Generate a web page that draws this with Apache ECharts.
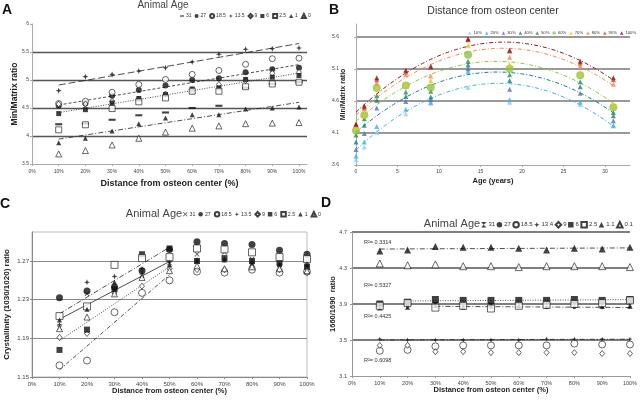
<!DOCTYPE html>
<html><head><meta charset="utf-8">
<script src="https://cdn.jsdelivr.net/npm/echarts@6/dist/echarts.min.js"></script>
<style>html,body{margin:0;padding:0;background:#fff}#c{width:640px;height:403px}</style>
</head><body><div id="c"></div>
<script>
// ---------- data ----------
const distances = [10,20,30,40,50,60,70,80,90,100];
const ages = [0,1,2.5,6,9,13.5,18.5,27,31];
const distLabels = ['10%','20%','30%','40%','50%','60%','70%','80%','90%','100%'];
const ageLabelsA = ['31','27','18.5','13.5','9','6','2.5','1','0'];
const ageLabelsD = ['31','27','18.5','13.4','9','6','2.5','1.1','0.1'];

// Min/Matrix ratio, one array per animal age, values at 10%..100%
const mmAge31  = [4.21,4.22,4.29,4.37,4.42,4.50,4.54,4.86,4.93,4.96];
const mmAge27  = [4.54,4.58,4.72,4.82,4.90,5.00,5.03,5.14,5.19,5.22];
const mmAge18_5= [4.58,4.62,4.78,4.92,5.01,5.10,5.17,5.28,5.38,5.39];
const mmAge13_5= [4.81,5.06,5.10,5.16,5.22,5.32,5.46,5.55,5.56,5.57];
const mmAge9   = [4.57,4.57,4.62,4.66,4.75,4.81,4.92,4.99,5.12,5.14];
const mmAge6   = [4.40,4.47,4.59,4.67,4.74,4.84,4.86,5.01,5.05,5.08];
const mmAge2_5 = [4.11,4.20,4.49,4.61,4.68,4.80,4.80,4.88,4.93,4.96];
const mmAge1   = [3.88,3.96,4.09,4.22,4.32,4.38,4.38,4.48,4.50,4.52];
const mmAge0   = [3.68,3.74,3.84,3.96,4.07,4.14,4.18,4.22,4.23,4.24];

// Crystallinity (1030/1020)
const crAge31  = [1.201,1.236,1.240,1.258,1.268,1.277,1.279,1.272,1.266,1.269];
const crAge27  = [1.232,1.239,1.243,1.260,1.282,1.290,1.288,1.287,1.281,1.277];
const crAge18_5= [1.162,1.167,1.217,1.237,1.250,1.259,1.258,1.261,1.258,1.259];
const crAge13_5= [1.204,1.248,1.254,1.262,1.269,1.271,1.272,1.268,1.266,1.265];
const crAge9   = [1.191,1.195,1.237,1.244,1.262,1.261,1.261,1.264,1.261,1.258];
const crAge6   = [1.178,1.199,1.241,1.277,1.283,1.270,1.273,1.270,1.268,1.264];
const crAge2_5 = [1.213,1.223,1.266,1.273,1.274,1.283,1.282,1.279,1.274,1.272];
const crAge1   = [1.209,1.220,1.248,1.255,1.266,1.270,1.271,1.268,1.266,1.266];
const crAge0   = [1.200,1.212,1.236,1.253,1.260,1.265,1.262,1.264,1.262,1.260];

// 1660/1690 ratio
const amAge31  = [3.86,3.87,3.89,3.87,3.88,3.89,3.88,3.89,3.88,3.88];
const amAge27  = [3.88,3.87,3.88,3.87,3.87,3.87,3.86,3.86,3.86,3.87];
const amAge18_5= [3.38,3.39,3.43,3.44,3.44,3.44,3.44,3.46,3.45,3.45];
const amAge13_4= [3.51,3.50,3.50,3.50,3.50,3.50,3.51,3.51,3.51,3.51];
const amAge9   = [3.44,3.44,3.37,3.37,3.36,3.36,3.36,3.36,3.35,3.35];
const amAge6   = [3.90,3.92,3.95,3.94,3.94,3.94,3.94,3.95,3.94,3.95];
const amAge2_5 = [3.88,3.91,3.86,3.88,3.85,3.88,3.89,3.90,3.91,3.94];
const amAge1_1 = [4.49,4.50,4.54,4.53,4.53,4.52,4.50,4.52,4.51,4.53];
const amAge0_1 = [4.35,4.33,4.34,4.32,4.32,4.31,4.32,4.32,4.32,4.31];
const r2Labels = ['R²= 0.3314','R²= 0.5327','R²= 0.4425','R²= 0.6098'];

// ---------- helpers ----------
function linFit(xs, ys){
  const n=xs.length; let sx=0,sy=0,sxx=0,sxy=0;
  for(let i=0;i<n;i++){sx+=xs[i];sy+=ys[i];sxx+=xs[i]*xs[i];sxy+=xs[i]*ys[i];}
  const b=(n*sxy-sx*sy)/(n*sxx-sx*sx); const a=(sy-b*sx)/n; return [a,b];
}
function quadFit(xs, ys){
  const S=[0,0,0,0,0],T=[0,0,0];
  for(let i=0;i<xs.length;i++){let p=1;for(let k=0;k<5;k++){S[k]+=p;if(k<3)T[k]+=p*ys[i];p*=xs[i];}}
  const M=[[S[0],S[1],S[2],T[0]],[S[1],S[2],S[3],T[1]],[S[2],S[3],S[4],T[2]]];
  for(let c=0;c<3;c++){for(let r=c+1;r<3;r++){const f=M[r][c]/M[c][c];for(let k=c;k<4;k++)M[r][k]-=f*M[c][k];}}
  const x=[0,0,0];
  for(let r=2;r>=0;r--){let s=M[r][3];for(let k=r+1;k<3;k++)s-=M[r][k]*x[k];x[r]=s/M[r][r];}
  return x;
}
const FONT='Liberation Sans, Arial, sans-serif';
const STAR='path://M0,-10 L2.6,-2.6 L10,0 L2.6,2.6 L0,10 L-2.6,2.6 L-10,0 L-2.6,-2.6 Z';
const DASH='path://M0,0 M10,10 M0,3.5 L10,3.5 L10,6.5 L0,6.5 Z';
const XMARK='path://M0,1 L1,0 L5,4 L9,0 L10,1 L6,5 L10,9 L9,10 L5,6 L1,10 L0,9 L4,5 Z';
const HOUR='path://M0,0 L10,0 L5,5 L10,10 L0,10 L5,5 Z';
const blk='#111';
function filled(sym,size){return {symbol:sym,symbolSize:size,itemStyle:{color:blk}};}
function open(sym,size){return {symbol:sym,symbolSize:size,itemStyle:{color:'#fff',borderColor:blk,borderWidth:0.8}};}

const series=[];
function scatter(panel, name, vals, style, gi, off){
  series.push(Object.assign({type:'scatter',name:panel+'|'+name,xAxisIndex:gi,yAxisIndex:gi,
    data:distances.map((d,i)=>[d,+(vals[i]-off).toFixed(4)])},style));
}
function trend(gi, vals, off, type, from, to, width){
  const xs=distances.slice(from,to), ys=vals.slice(from,to); const [a,b]=linFit(xs,ys);
  series.push({type:'line',xAxisIndex:gi,yAxisIndex:gi,silent:true,symbol:'none',z:1,
    lineStyle:{color:'#222',width:width||0.8,type:type},
    data:[[xs[0],a+b*xs[0]-off],[xs[xs.length-1],a+b*xs[xs.length-1]-off]]});
}

// ---------- Panel A ----------
const aRows=[mmAge31,mmAge27,mmAge18_5,mmAge13_5,mmAge9,mmAge6,mmAge2_5,mmAge1,mmAge0];
const aStyles=[filled(DASH,7),filled('circle',6),open('circle',6),filled(STAR,6),open('diamond',[5,6]),
  filled('rect',5),open('rect',6),filled('triangle',5),open('triangle',6)];
ageLabelsA.forEach((n,i)=>scatter('A',n,aRows[i],aStyles[i],0,0));
trend(0,mmAge13_5,0,[7,3],0,10);
trend(0,mmAge27,0,[3,2],0,10);
trend(0,mmAge6,0,[1,1.5],0,10);
trend(0,mmAge1,0,[5,2,1,2],0,10);

// ---------- Panel B ----------
const bRowsByAge=[mmAge0,mmAge1,mmAge2_5,mmAge6,mmAge9,mmAge13_5,mmAge18_5,mmAge27,mmAge31];
const bColors=['#8dd0f2','#3fb0e6','#5a6fb5','#177f86','#2e8b57','#8dc63f','#f5c21b','#ef8a50','#d9412b','#8b1c1c'];
const B_OFF=3.6;
distLabels.forEach((n,j)=>{
  const isBig = j===5;
  series.push({type:'scatter',name:'B|'+n,xAxisIndex:1,yAxisIndex:1,
    symbol:isBig?'circle':'triangle',symbolSize:isBig?8:5,itemStyle:{color:bColors[j]},
    data:ages.map((a,i)=>[a,+(bRowsByAge[i][j]-B_OFF).toFixed(4)])});
});
[1,3,5,7,9].forEach(j=>{
  const ys=bRowsByAge.map(r=>r[j]); const c=quadFit(ages,ys); const pts=[];
  for(let x=0;x<=31.001;x+=0.5) pts.push([x,c[0]+c[1]*x+c[2]*x*x-B_OFF]);
  series.push({type:'line',xAxisIndex:1,yAxisIndex:1,silent:true,symbol:'none',z:1,
    lineStyle:{color:bColors[j],width:1,type:[4,2,1,2]},data:pts});
});

// ---------- Panel C ----------
const C_OFF=1.15;
const cRows=[crAge31,crAge27,crAge18_5,crAge13_5,crAge9,crAge6,crAge2_5,crAge1,crAge0];
const cStyles=[filled(XMARK,5),filled('circle',7),open('circle',7),filled(STAR,6),open('diamond',[5,6]),
  filled('rect',6),open('rect',7),filled('triangle',5),open('triangle',6)];
ageLabelsA.forEach((n,i)=>scatter('C',n,cRows[i],cStyles[i],2,C_OFF));
trend(2,crAge2_5,C_OFF,[5,2,1,2],0,5);
trend(2,crAge1,C_OFF,'solid',0,5);
trend(2,crAge9,C_OFF,[1,1.5],0,5);
trend(2,crAge18_5,C_OFF,[4,2,1,2],0,5);

// ---------- Panel D ----------
const D_OFF=3.1;
const dRows=[amAge31,amAge27,amAge18_5,amAge13_4,amAge9,amAge6,amAge2_5,amAge1_1,amAge0_1];
const dStyles=[filled(HOUR,6),filled('circle',3.5),open('circle',7),filled(STAR,5),open('diamond',[5,6]),
  filled('rect',7),open('rect',7),filled('triangle',7),open('triangle',7)];
ageLabelsD.forEach((n,i)=>scatter('D',n,dRows[i],dStyles[i],3,D_OFF));
trend(3,amAge1_1,D_OFF,[5,2,1,2],0,10);
trend(3,amAge6,D_OFF,[1,1.5],1,10);
trend(3,amAge27,D_OFF,[5,2,1,2],2,10);
trend(3,amAge13_4,D_OFF,[5,2,1,2],0,10);

// ---------- axes ----------
function xAx(gi,max,interval,fmt,fs,margin,name,nameGap,nfs,axisColor,showMaxLabel){
  return {gridIndex:gi,type:'value',min:0,max:max,interval:interval,
    axisLine:{lineStyle:{color:axisColor,width:1}},axisTick:{length:2,lineStyle:{color:axisColor}},
    axisLabel:{formatter:fmt,fontSize:fs,color:'#444',margin:margin,fontFamily:FONT,showMaxLabel:showMaxLabel},
    splitLine:{show:false},name:name,nameLocation:'middle',nameGap:nameGap,nameMoveOverlap:false,
    nameTextStyle:{fontSize:nfs,fontWeight:'bold',color:'#222',fontFamily:FONT}};
}
function yAx(gi,min,max,interval,fmt,fs,margin,name,nameGap,nfs,axisColor,split,showMaxLine,showMaxLabel){
  return {gridIndex:gi,type:'value',min:min,max:max,interval:interval,
    axisLine:{show:true,lineStyle:{color:axisColor,width:1}},axisTick:{show:true,length:2,lineStyle:{color:axisColor}},
    axisLabel:{formatter:fmt,fontSize:fs,color:'#444',margin:margin,fontFamily:FONT,showMaxLabel:showMaxLabel},
    splitLine:{show:true,showMinLine:false,showMaxLine:showMaxLine,lineStyle:split},
    name:name,nameLocation:'middle',nameRotate:90,nameGap:nameGap,nameMoveOverlap:false,
    nameTextStyle:{fontSize:nfs,fontWeight:'bold',color:'#222',fontFamily:FONT}};
}
const pct=v=>v+'%';
const legText=(fs)=>({fontSize:fs,color:'#333',fontFamily:FONT,padding:[0,0,0,-3]});
const option={
  animation:false,
  backgroundColor:'#fff',
  textStyle:{fontFamily:FONT},
  grid:[
    {left:32,top:24,width:275,height:140},
    {left:356,top:24,width:274,height:141},
    {left:32,top:232,width:275,height:145,show:true,borderColor:'#bbb',borderWidth:1,backgroundColor:'transparent'},
    {left:352,top:232,width:280,height:144}
  ],
  xAxis:[
    xAx(0,103,10,pct,5,5,'Distance from osteon center (%)',15,9,'#aaa',false),
    xAx(1,33,5,null,5,4,'Age (years)',12,7.5,'#aaa',false),
    xAx(2,100,10,pct,6,4,'Distance from osteon center (%)',10,7.5,'#888',true),
    xAx(3,100,10,pct,5.5,4,'Distance from osteon center (%)',10,7.5,'#999',true)
  ],
  yAxis:[
    yAx(0,3.5,6,0.5,null,5,3,'Min/Matrix ratio',13,8.5,'#aaa',{color:'#555',width:1.3},false,true),
    yAx(1,0,2.2,0.5,v=>(v+B_OFF).toFixed(1),5,17,'Min/Matrix ratio',9,7,'#aaa',{color:'#999',width:2},false,false),
    yAx(2,0,0.15,0.04,v=>(v+C_OFF).toFixed(2),6,3,'Crystallinity (1030/1020) ratio',21,8,'#888',{color:'#888',width:1},false,false),
    yAx(3,0,1.6,0.4,v=>(v+D_OFF).toFixed(1),5.5,5,'1660/1690  ratio',15,7.5,'#999',{color:'#555',width:1.5},true,true)
  ],
  title:[
    {text:'Animal Age',left:163,top:0,textAlign:'center',padding:0,textStyle:{fontSize:10,fontWeight:'normal',color:'#444',fontFamily:FONT}},
    {text:'Distance from osteon center',left:493,top:6,textAlign:'center',padding:0,textStyle:{fontSize:10.5,fontWeight:'normal',color:'#333',fontFamily:FONT}},
    {text:'Animal Age',left:154,top:208,textAlign:'center',padding:0,textStyle:{fontSize:11,fontWeight:'normal',color:'#444',fontFamily:FONT}},
    {text:'Animal Age',left:452,top:218,textAlign:'center',padding:0,textStyle:{fontSize:11,fontWeight:'normal',color:'#444',fontFamily:FONT}}
  ],
  legend:[
    {data:ageLabelsA.map(n=>n==='31'?{name:'A|'+n,icon:DASH}:'A|'+n),left:180,top:13,padding:0,itemWidth:4,itemHeight:4,itemGap:3,
      formatter:n=>n.split('|')[1],textStyle:legText(5)},
    {data:distLabels.map(n=>'B|'+n),left:468,top:31,padding:0,itemWidth:3.5,itemHeight:3.5,itemGap:3,
      formatter:n=>n.split('|')[1],textStyle:legText(4.2)},
    {data:ageLabelsA.map(n=>'C|'+n),left:183,top:211,padding:0,itemWidth:4.5,itemHeight:4.5,itemGap:3,
      formatter:n=>n.split('|')[1],textStyle:legText(5.3)},
    {data:ageLabelsD.map(n=>'D|'+n),left:481,top:221,width:200,padding:0,itemWidth:5.5,itemHeight:5.5,itemGap:1.5,
      formatter:n=>n.split('|')[1],textStyle:legText(6)}
  ],
  graphic:[
    {type:'text',left:2,top:3,style:{text:'A',font:'bold 14px '+FONT,fill:'#111'}},
    {type:'text',left:329,top:3,style:{text:'B',font:'bold 14px '+FONT,fill:'#111'}},
    {type:'text',left:0,top:197,style:{text:'C',font:'bold 14px '+FONT,fill:'#111'}},
    {type:'text',left:321,top:196,style:{text:'D',font:'bold 14px '+FONT,fill:'#111'}},
    {type:'text',left:364,top:239,style:{text:r2Labels[0],font:'5.5px '+FONT,fill:'#333'}},
    {type:'text',left:364,top:282,style:{text:r2Labels[1],font:'5.5px '+FONT,fill:'#333'}},
    {type:'text',left:364,top:313,style:{text:r2Labels[2],font:'5.5px '+FONT,fill:'#333'}},
    {type:'text',left:364,top:357,style:{text:r2Labels[3],font:'5.5px '+FONT,fill:'#333'}}
  ],
  series:series
};
const chart=echarts.init(document.getElementById('c'),null,{renderer:'canvas'});
chart.setOption(option);
</script></body></html>
